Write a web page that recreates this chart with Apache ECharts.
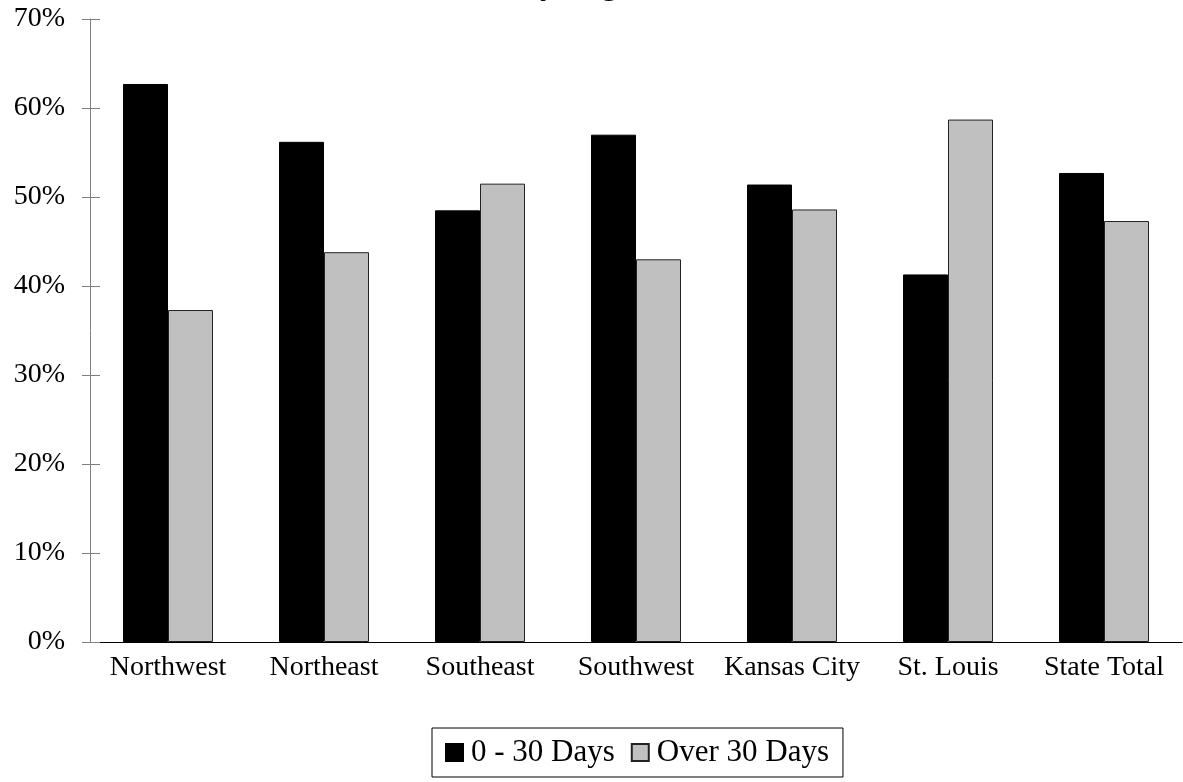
<!DOCTYPE html>
<html>
<head>
<meta charset="utf-8">
<script src="https://cdn.jsdelivr.net/npm/echarts@6/dist/echarts.min.js"></script>
<style>html,body{margin:0;padding:0;background:#fff}#c{width:1183px;height:782px}</style>
</head>
<body>
<div id="c"></div>
<script>
const categories = ['Northwest', 'Northeast', 'Southeast', 'Southwest', 'Kansas City', 'St. Louis', 'State Total'];
const days0to30 = [62.7, 56.2, 48.5, 57.0, 51.4, 41.3, 52.7];
const over30 = [37.3, 43.8, 51.5, 43.0, 48.6, 58.7, 47.3];
const seriesNames = ['0 - 30 Days', 'Over 30 Days'];
const titleText = 'Time Standards Met by Region';

const FONT = 'Liberation Serif';
const chart = echarts.init(document.getElementById('c'));
chart.setOption({
  animation: false,
  backgroundColor: '#fff',
  title: {
    text: titleText,
    left: 232, top: -30.5, padding: 0,
    textStyle: { fontFamily: FONT, fontSize: 32, fontWeight: 'bold', color: '#000' }
  },
  grid: { left: 90, right: 1, top: 19, bottom: 140 },
  legend: {
    left: 432, top: 728,
    data: seriesNames,
    itemWidth: 17, itemHeight: 17, itemGap: 16,
    icon: 'rect',
    borderColor: '#000', borderWidth: 1,
    padding: [9, 14, 9, 13],
    textStyle: { fontFamily: FONT, fontSize: 31, color: '#000', padding: [0, 0, 0, 3] }
  },
  xAxis: {
    type: 'category',
    data: categories,
    axisLine: { lineStyle: { color: '#000', width: 1 } },
    axisTick: { show: false },
    axisLabel: { fontFamily: FONT, fontSize: 28, color: '#000', margin: 12, interval: 0 }
  },
  yAxis: [{
    type: 'value', min: 0, max: 70, interval: 10,
    axisLine: { show: true, lineStyle: { color: '#808080' } },
    axisTick: { show: true, length: 8, lineStyle: { color: '#808080' } },
    splitLine: { show: false },
    axisLabel: { fontFamily: FONT, fontSize: 28, color: '#000', margin: 25, formatter: '{value}%' }
  }, {
    type: 'value', min: 0, max: 70, interval: 10, position: 'left', offset: 0,
    axisLine: { show: false },
    axisTick: { show: true, inside: true, length: 10, lineStyle: { color: '#808080' } },
    splitLine: { show: false },
    axisLabel: { show: false }
  }],
  series: [{
    name: seriesNames[0], type: 'bar', data: days0to30,
    barWidth: 45, barGap: '0%',
    itemStyle: { color: '#000', borderColor: '#000', borderWidth: 1 }
  }, {
    name: seriesNames[1], type: 'bar', data: over30,
    barWidth: 45,
    itemStyle: { color: '#c0c0c0', borderColor: '#222', borderWidth: 1 }
  }]
});
</script>
</body>
</html>
